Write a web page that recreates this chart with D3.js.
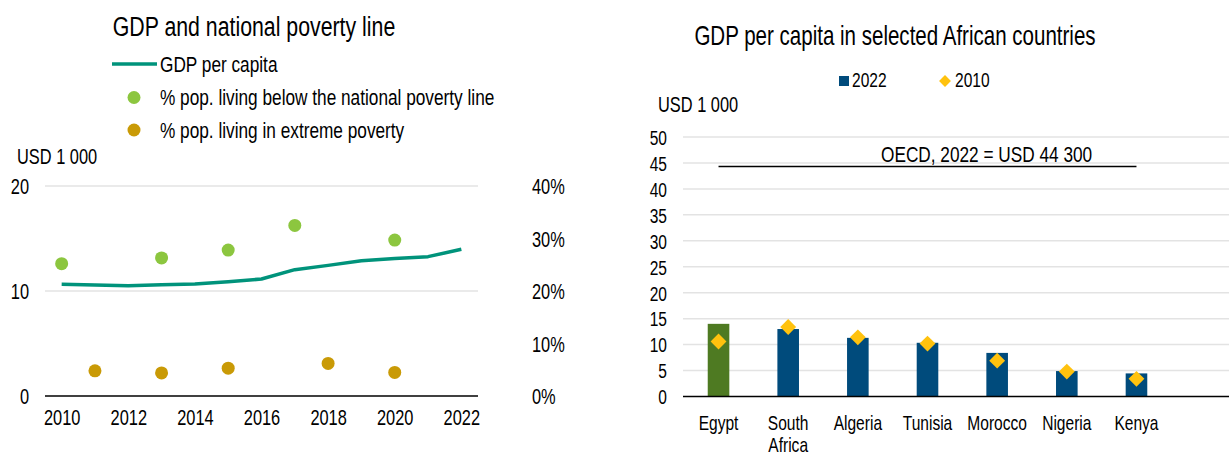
<!DOCTYPE html>
<html>
<head>
<meta charset="utf-8">
<script src="https://cdn.jsdelivr.net/npm/d3@7"></script>
<style>
  html, body { margin: 0; padding: 0; background: #fff; }
  svg { display: block; }
  text { font-family: "Liberation Sans", Arial, sans-serif; fill: #000; }
</style>
</head>
<body>
<svg id="chart" width="1229" height="455"></svg>
<script>
// ---- Left panel: Egypt GDP per capita and poverty rates ----
const years = [2010, 2011, 2012, 2013, 2014, 2015, 2016, 2017, 2018, 2019, 2020, 2021, 2022];
const gdpPerCapita = [10.64, 10.57, 10.50, 10.60, 10.67, 10.89, 11.14, 12.03, 12.44, 12.89, 13.10, 13.27, 13.97];
const nationalPovertyYears = [2010, 2013, 2015, 2017, 2020];
const nationalPoverty = [25.2, 26.3, 27.8, 32.5, 29.7];
const extremePovertyYears = [2011, 2013, 2015, 2018, 2020];
const extremePoverty = [4.8, 4.4, 5.3, 6.2, 4.5];
const leftTicks = [0, 10, 20];
const rightTicks = [0, 10, 20, 30, 40];
const yearTicks = [2010, 2012, 2014, 2016, 2018, 2020, 2022];

// ---- Right panel: GDP per capita in selected African countries ----
const countries = ["Egypt", "South Africa", "Algeria", "Tunisia", "Morocco", "Nigeria", "Kenya"];
const gdp2022 = [14.0, 13.0, 11.3, 10.35, 8.4, 4.9, 4.45];
const gdp2010 = [10.6, 13.4, 11.4, 10.2, 6.9, 4.8, 3.4];
const countryTicks = [0, 5, 10, 15, 20, 25, 30, 35, 40, 45, 50];
const oecd2022 = 44.3;

const C = {
  teal: "#00937b",
  lightGreen: "#8cc63f",
  gold: "#c99a06",
  egypt: "#4e7a22",
  blue: "#004b7c",
  diamond: "#ffc20e",
  grid: "#e3e3e3"
};

// condensed type: labels are set slightly taller and squeezed horizontally
const K = 1.07;
const NARROW = 0.82 / K;
const fs = px => (px * K).toFixed(1) + "px";

const svg = d3.select("#chart");

// ================= Left panel =================
const L = svg.append("g");
const xL = d3.scalePoint().domain(years).range([45, 478]).padding(0.5);
const yL = d3.scaleLinear().domain([0, 20]).range([396, 186]);
const yR = d3.scaleLinear().domain([0, 40]).range([396, 186]);

L.append("text").attr("x", 254).attr("y", 36.5).attr("text-anchor", "middle")
  .style("font-size", fs(26)).text("GDP and national poverty line");

// legend
L.append("line").attr("x1", 112).attr("x2", 157).attr("y1", 64).attr("y2", 64)
  .attr("stroke", C.teal).attr("stroke-width", 3.5);
L.append("text").attr("x", 160).attr("y", 72).style("font-size", fs(21)).text("GDP per capita");
L.append("circle").attr("cx", 134).attr("cy", 97.5).attr("r", 6.5).attr("fill", C.lightGreen);
L.append("text").attr("x", 160).attr("y", 105.5).style("font-size", fs(21))
  .text("% pop. living below the national poverty line");
L.append("circle").attr("cx", 134).attr("cy", 130).attr("r", 6.5).attr("fill", C.gold);
L.append("text").attr("x", 160).attr("y", 138).style("font-size", fs(21))
  .text("% pop. living in extreme poverty");

L.append("text").attr("x", 17).attr("y", 164.5).style("font-size", fs(20)).text("USD 1 000");

// gridlines
L.append("g").selectAll("line").data(leftTicks.filter(d => d > 0)).join("line")
  .attr("x1", 45).attr("x2", 478).attr("y1", d => yL(d)).attr("y2", d => yL(d))
  .attr("stroke", C.grid).attr("stroke-width", 1.5);

// left axis
const axL = L.append("g").attr("transform", "translate(45,0)")
  .call(d3.axisLeft(yL).tickValues(leftTicks).tickSize(0).tickPadding(16));
axL.select(".domain").remove();
axL.selectAll("text").style("font-size", fs(20)).attr("dy", "0.36em");

// right axis
const axR = L.append("g").attr("transform", "translate(478,0)")
  .call(d3.axisRight(yR).tickValues(rightTicks).tickSize(0).tickPadding(54).tickFormat(d => d + "%"));
axR.select(".domain").remove();
axR.selectAll("text").style("font-size", fs(20)).attr("dy", "0.36em");

// bottom axis
const axB = L.append("g").attr("transform", "translate(0,396)")
  .call(d3.axisBottom(xL).tickValues(yearTicks).tickSize(0).tickPadding(10));
axB.select(".domain").remove();
axB.selectAll("text").style("font-size", fs(20)).attr("dy", "0.88em");
L.append("line").attr("x1", 45).attr("x2", 478).attr("y1", 396).attr("y2", 396)
  .attr("stroke", "#000").attr("stroke-width", 1.5);

// GDP line
L.append("path").datum(years.map((y, i) => [y, gdpPerCapita[i]]))
  .attr("fill", "none").attr("stroke", C.teal).attr("stroke-width", 3.5)
  .attr("stroke-linejoin", "round")
  .attr("d", d3.line().x(d => xL(d[0])).y(d => yL(d[1])));

// poverty dots
L.append("g").selectAll("circle").data(nationalPovertyYears.map((y, i) => [y, nationalPoverty[i]])).join("circle")
  .attr("cx", d => xL(d[0])).attr("cy", d => yR(d[1])).attr("r", 6.5).attr("fill", C.lightGreen);
L.append("g").selectAll("circle").data(extremePovertyYears.map((y, i) => [y, extremePoverty[i]])).join("circle")
  .attr("cx", d => xL(d[0])).attr("cy", d => yR(d[1])).attr("r", 6.5).attr("fill", C.gold);

// ================= Right panel =================
const R = svg.append("g");
const xC = d3.scaleBand().domain(countries).range([683.7, 1171.3]).paddingInner(0.69).paddingOuter(0.345);
const yC = d3.scaleLinear().domain([0, 50]).range([396.5, 137]);

R.append("text").attr("x", 895).attr("y", 45).attr("text-anchor", "middle")
  .style("font-size", fs(25)).text("GDP per capita in selected African countries");

// legend
R.append("rect").attr("x", 839).attr("y", 76).attr("width", 10).attr("height", 10).attr("fill", C.blue);
R.append("text").attr("x", 852).attr("y", 87.5).style("font-size", fs(19)).text("2022");
R.append("path").attr("d", d3.symbol(d3.symbolDiamond2, 90)()).attr("transform", "translate(945,81)")
  .attr("fill", C.diamond);
R.append("text").attr("x", 955).attr("y", 87.5).style("font-size", fs(19)).text("2010");

R.append("text").attr("x", 658).attr("y", 112).style("font-size", fs(20)).text("USD 1 000");

// gridlines
R.append("g").selectAll("line").data(countryTicks.filter(d => d > 0)).join("line")
  .attr("x1", 683).attr("x2", 1229).attr("y1", d => yC(d)).attr("y2", d => yC(d))
  .attr("stroke", C.grid).attr("stroke-width", 1.5);

const axC = R.append("g").attr("transform", "translate(683,0)")
  .call(d3.axisLeft(yC).tickValues(countryTicks).tickSize(0).tickPadding(16));
axC.select(".domain").remove();
axC.selectAll("text").style("font-size", fs(19)).attr("dy", "0.36em");

// bars
R.append("g").selectAll("rect").data(countries.map((c, i) => [c, gdp2022[i]])).join("rect")
  .attr("x", d => xC(d[0])).attr("width", xC.bandwidth())
  .attr("y", d => yC(d[1])).attr("height", d => yC(0) - yC(d[1]))
  .attr("fill", d => d[0] === "Egypt" ? C.egypt : C.blue);

R.append("line").attr("x1", 683).attr("x2", 1229).attr("y1", yC(0)).attr("y2", yC(0))
  .attr("stroke", "#000").attr("stroke-width", 1.5);

// 2010 diamonds
R.append("g").selectAll("path").data(countries.map((c, i) => [c, gdp2010[i]])).join("path")
  .attr("d", d3.symbol(d3.symbolDiamond2, 160)())
  .attr("transform", d => `translate(${xC(d[0]) + xC.bandwidth() / 2},${yC(d[1])})`)
  .attr("fill", C.diamond);

// OECD reference line
const xFirst = xC(countries[0]) + xC.bandwidth() / 2;
const xLast = xC(countries[countries.length - 1]) + xC.bandwidth() / 2;
R.append("line").attr("x1", xFirst).attr("x2", xLast).attr("y1", yC(oecd2022)).attr("y2", yC(oecd2022))
  .attr("stroke", "#000").attr("stroke-width", 1.5);
R.append("text").attr("x", 881).attr("y", yC(oecd2022) - 4.5).style("font-size", fs(21))
  .text("OECD, 2022 = USD 44 300");

// category labels (wrapped on spaces)
const cat = R.append("g").selectAll("text").data(countries).join("text")
  .attr("x", d => xC(d) + xC.bandwidth() / 2).attr("y", 430).attr("text-anchor", "middle")
  .style("font-size", fs(19));
cat.each(function (d) {
  const words = d.split(" ");
  const t = d3.select(this);
  words.forEach((w, i) => {
    t.append("tspan").attr("x", xC(d) + xC.bandwidth() / 2).attr("dy", i === 0 ? 0 : 22).text(w);
  });
});

// squeeze every label horizontally around its own anchor x
svg.selectAll("text").each(function () {
  const x = +(this.getAttribute("x") || 0);
  this.setAttribute("transform", `translate(${x},0) scale(${NARROW},1) translate(${-x},0)`);
});
</script>
</body>
</html>
